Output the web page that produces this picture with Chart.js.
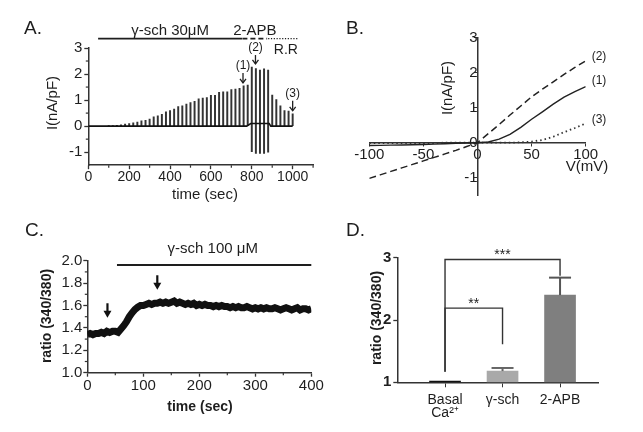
<!DOCTYPE html>
<html>
<head>
<meta charset="utf-8">
<script src="https://cdn.jsdelivr.net/npm/chart.js@4.4.0/dist/chart.umd.min.js"></script>
<style>
  body { margin: 0; background: #fff; }
  #wrap { position: relative; width: 643px; height: 432px; }
  #wrap canvas { position: absolute; left: 0; top: 0; }
</style>
</head>
<body>
<div id="wrap">
  <canvas id="chartA" width="643" height="432"></canvas>
  <canvas id="chartB" width="643" height="432"></canvas>
  <canvas id="chartC" width="643" height="432"></canvas>
  <canvas id="chartD" width="643" height="432"></canvas>
</div>
<script>
// ---- Panel A: ramp currents (nA/pF) over time ----
const rampTimes = [100,120,140,160,180,200,220,240,260,280,300,320,340,360,380,400,420,440,460,480,
  500,520,540,560,580,600,620,640,660,680,700,720,740,760,780,800,820,840,860,880,900,920,940,960,980,1000];
const rampPeak = [0.01,0.02,0.03,0.05,0.08,0.10,0.13,0.16,0.20,0.22,0.27,0.36,0.40,0.45,0.55,0.60,0.65,0.75,0.78,0.85,
  0.90,0.95,1.05,1.08,1.10,1.18,1.18,1.30,1.32,1.32,1.40,1.42,1.45,1.55,1.58,2.27,2.21,2.15,2.20,2.15,1.19,1.02,0.78,0.60,0.58,0.47];
const rampTrough = [0,0,0,0,0,0,0,0,0,0,0,0,0,0,0,0,0,0,0,0,
  0,0,0,0,0,0,0,0,0,0,0,0,0,0,0,-0.98,-1.05,-1.05,-1.05,-1.00,0,0,0,0,0,0];
const holdTime = [0, 775, 795, 885, 893, 1000];
const holdCurrent = [0, 0, 0.1, 0.1, 0, 0];
const aXTicks = [0, 200, 400, 600, 800, 1000];
const aXMinor = [100, 300, 500, 700, 900, 1100];
const aYTicks = [-1, 0, 1, 2, 3];
const aYMinor = [-0.5, 0.5, 1.5, 2.5];
const treatStart = [48, 754, 880];
const treatEnd = [752, 875, 1027];
const markSec = [757, 818, 1000];
const markLabel = ['(1)', '(2)', '(3)'];
const markTop = [2.04, 2.73, 0.97];
const markTip = [1.66, 2.39, 0.59];

// ---- Panel B: I-V curves ----
const ivVoltage = [-100,-90,-80,-70,-60,-50,-40,-30,-20,-10,0,10,20,30,40,50,60,70,80,90,100];
const ivCurrent1 = [-0.08,-0.075,-0.07,-0.065,-0.06,-0.05,-0.04,-0.03,-0.02,-0.01,0,0.02,0.10,0.24,0.44,0.67,0.88,1.10,1.30,1.46,1.60];
const ivCurrent2 = [-1.02,-0.92,-0.82,-0.72,-0.62,-0.52,-0.42,-0.32,-0.22,-0.11,0.0,0.26,0.52,0.79,1.05,1.31,1.53,1.74,1.95,2.15,2.34];
const ivCurrent3 = [-0.01,-0.01,-0.01,-0.01,-0.01,-0.01,-0.01,0,0,0,0,0,0,0,0.01,0.03,0.08,0.17,0.30,0.42,0.55];
const bXTicks = [-100, -50, 0, 50, 100];
const bYTicks = [-1, 0, 1, 2, 3];

// ---- Panel C: Fura-2 ratio trace ----
const traceTime = [0,5,10,15,20,25,30,35,40,45,50,55,60,65,70,75,80,85,90,95,100,105,110,115,120,125,130,135,140,145,
  150,155,160,165,170,175,180,185,190,195,200,205,210,215,220,225,230,235,240,245,250,255,260,265,270,275,280,285,290,295,
  300,305,310,315,320,325,330,335,340,345,350,355,360,365,370,375,380,385,390,395,400];
const traceRatio = [1.34,1.35,1.34,1.35,1.35,1.36,1.35,1.37,1.36,1.37,1.37,1.36,1.39,1.42,1.455,1.50,1.535,1.565,1.585,1.60,
  1.60,1.61,1.62,1.61,1.62,1.62,1.63,1.62,1.63,1.62,1.63,1.64,1.62,1.63,1.62,1.61,1.62,1.61,1.62,1.60,
  1.61,1.60,1.61,1.60,1.60,1.59,1.60,1.59,1.60,1.59,1.59,1.58,1.59,1.58,1.59,1.58,1.58,1.59,1.58,1.57,
  1.58,1.57,1.58,1.57,1.58,1.57,1.57,1.58,1.57,1.56,1.57,1.58,1.57,1.56,1.57,1.58,1.56,1.57,1.57,1.56,1.57];
const cXTicks = [0, 100, 200, 300, 400];
const cXMinor = [50, 150, 250, 350];
const cYTicks = [1.0, 1.2, 1.4, 1.6, 1.8, 2.0];
const cYMinor = [1.1, 1.3, 1.5, 1.7, 1.9];
const drugStart = 53, drugEnd = 400;
const arrowSec = [36, 125];
const arrowTop = [1.62, 1.87];
const arrowTip = [1.49, 1.74];

// ---- Panel D: mean ratio ----
const groups = [['Basal', 'Ca²⁺'], ['γ-sch'], ['2-APB']];
const ratioMean = [1.02, 1.18, 2.40];
const ratioSem = [0, 0.05, 0.28];
const dYTicks = [1, 2, 3];
const sigPairs = [[0, 1], [0, 2]];
const sigLeftFoot = [1.17, 1.17];
const sigTop = [2.19, 2.97];
const sigRightFoot = [1.61, 2.71];
const sigMarks = ['**', '***'];

const FONT = "'Liberation Sans', Arial, Helvetica, sans-serif";
const ink = '#1e1e1e';
const axisCol = '#333';
Chart.defaults.font.family = FONT;
Chart.defaults.color = ink;

function text(ctx, str, x, y, size, opt = {}) {
  ctx.save();
  ctx.font = (opt.bold ? 'bold ' : '') + size + 'px ' + FONT;
  ctx.fillStyle = opt.color || ink;
  ctx.textAlign = opt.align || 'center';
  ctx.textBaseline = 'middle';
  ctx.translate(x, y);
  if (opt.rotate) ctx.rotate(opt.rotate);
  ctx.fillText(str, 0, 0);
  ctx.restore();
}

function line(ctx, x1, y1, x2, y2, w, col, dash) {
  ctx.save();
  ctx.strokeStyle = col || ink;
  ctx.lineWidth = w;
  ctx.setLineDash(dash || []);
  ctx.beginPath();
  ctx.moveTo(x1, y1);
  ctx.lineTo(x2, y2);
  ctx.stroke();
  ctx.restore();
}

function minorTicks(chart, xVals, yVals) {
  const {ctx, chartArea, scales} = chart;
  (yVals || []).forEach(v => {
    const py = scales.y.getPixelForValue(v);
    line(ctx, chartArea.left, py, chartArea.left - 2.5, py, 1.2, axisCol);
  });
  (xVals || []).forEach(v => {
    const px = scales.x.getPixelForValue(v);
    line(ctx, px, chartArea.bottom, px, chartArea.bottom + 2.5, 1.2, axisCol);
  });
}

function axis(extra) {
  return Object.assign({
    offset: false,
    grid: {offset: false, drawOnChartArea: false, tickLength: 4, color: axisCol, tickWidth: 1.3},
    border: {color: axisCol, width: 1.5},
    ticks: {font: {size: 14}, color: ink, autoSkip: false, maxRotation: 0, padding: 2}
  }, extra);
}

function baseOptions(padding, scales) {
  return {
    responsive: false,
    animation: false,
    events: [],
    layout: {padding},
    plugins: {legend: {display: false}, tooltip: {enabled: false}},
    scales
  };
}

// ================= Panel A =================
const panelA = {
  id: 'panelA',
  afterDraw(chart) {
    const {ctx, scales: {x, y}} = chart;
    minorTicks(chart, aXMinor, aYMinor);
    text(ctx, 'A.', 24, 29, 19, {align: 'left'});
    text(ctx, 'I(nA/pF)', 53, 103, 15, {rotate: -Math.PI / 2});
    text(ctx, 'time (sec)', 205, 195, 15);

    const barY = y.getPixelForValue(3.36);
    line(ctx, x.getPixelForValue(treatStart[0]), barY, x.getPixelForValue(treatEnd[0]), barY, 1.6, ink);
    line(ctx, x.getPixelForValue(treatStart[1]), barY, x.getPixelForValue(treatEnd[1]), barY, 1.6, ink, [5, 3]);
    line(ctx, x.getPixelForValue(treatStart[2]), barY, x.getPixelForValue(treatEnd[2]), barY, 1.4, ink, [1.2, 1.6]);
    text(ctx, 'γ-sch 30μM', x.getPixelForValue(400), 30.5, 15);
    text(ctx, '2-APB', x.getPixelForValue(815), 30.5, 15);
    text(ctx, 'R.R', x.getPixelForValue(967), 50, 14);

    markSec.forEach((s, i) => {
      const px = x.getPixelForValue(s);
      const top = y.getPixelForValue(markTop[i]);
      const tip = y.getPixelForValue(markTip[i]);
      line(ctx, px, top, px, tip, 1.3, ink);
      ctx.save();
      ctx.strokeStyle = ink;
      ctx.lineWidth = 1.3;
      ctx.beginPath();
      ctx.moveTo(px - 3, tip - 4);
      ctx.lineTo(px, tip);
      ctx.lineTo(px + 3, tip - 4);
      ctx.stroke();
      ctx.restore();
      text(ctx, markLabel[i], px, top - 7, 12);
    });
  }
};

new Chart(document.getElementById('chartA'), {
  type: 'bar',
  data: {
    datasets: [
      {
        type: 'line',
        data: holdTime.map((t, i) => ({x: t, y: holdCurrent[i]})),
        borderColor: '#111',
        borderWidth: 1.6,
        pointRadius: 0,
        order: 0
      },
      {
        type: 'bar',
        data: rampTimes.map((t, i) => ({x: t, y: [rampTrough[i], rampPeak[i]]})),
        backgroundColor: '#333',
        barThickness: 1.3,
        order: 1
      }
    ]
  },
  options: baseOptions({left: 48.3, top: 48, right: 329.9, bottom: 236.8}, {
    x: axis({
      type: 'linear', min: 0, max: 1100,
      afterFit: s => { s.height = 30; },
      afterBuildTicks: s => { s.ticks = aXTicks.map(v => ({value: v})); },
      ticks: {font: {size: 14}, color: ink, autoSkip: false, maxRotation: 0, padding: 0, callback: v => String(v)}
    }),
    y: axis({
      type: 'linear', min: -1.5, max: 3,
      afterFit: s => { s.width = 40; },
      afterBuildTicks: s => { s.ticks = aYTicks.map(v => ({value: v})); },
      ticks: {font: {size: 15}, color: ink, autoSkip: false, padding: 2}
    })
  }),
  plugins: [panelA]
});

// ================= Panel B =================
const panelB = {
  id: 'panelB',
  afterDraw(chart) {
    const {ctx} = chart;
    text(ctx, 'B.', 346, 29, 19, {align: 'left'});
    text(ctx, 'I(nA/pF)', 447.5, 88, 15, {rotate: -Math.PI / 2});
    text(ctx, 'V(mV)', 587, 166.5, 15);
    text(ctx, '(2)', 599, 57, 12);
    text(ctx, '(1)', 599, 80.5, 12);
    text(ctx, '(3)', 599, 119.5, 12);
  }
};

const ivPoints = arr => ivVoltage.map((v, i) => ({x: v, y: arr[i]}));

new Chart(document.getElementById('chartB'), {
  type: 'line',
  data: {
    datasets: [
      {data: ivPoints(ivCurrent1), borderColor: '#222', borderWidth: 1.4, pointRadius: 0},
      {data: ivPoints(ivCurrent2), borderColor: '#222', borderWidth: 1.5, borderDash: [7, 4], pointRadius: 0},
      {data: ivPoints(ivCurrent3), borderColor: '#333', borderWidth: 1.8, borderDash: [1.5, 3], pointRadius: 0}
    ]
  },
  options: baseOptions({left: 369.3, top: 37.7, right: 57.3, bottom: 236.8}, {
    x: axis({
      type: 'linear', min: -100, max: 100, position: {y: 0},
      afterBuildTicks: s => { s.ticks = bXTicks.map(v => ({value: v})); },
      grid: {offset: false, drawOnChartArea: false, tickLength: 3, color: axisCol},
      ticks: {font: {size: 15}, color: ink, autoSkip: false, maxRotation: 0, padding: 0}
    }),
    y: axis({
      type: 'linear', min: -1.5, max: 3, position: {x: 0},
      afterBuildTicks: s => { s.ticks = bYTicks.map(v => ({value: v})); },
      grid: {offset: false, drawOnChartArea: false, tickLength: 3, color: axisCol},
      ticks: {font: {size: 15}, color: ink, autoSkip: false, padding: 1}
    })
  }),
  plugins: [panelB]
});

// ================= Panel C =================
const panelC = {
  id: 'panelC',
  afterDraw(chart) {
    const {ctx, scales: {x, y}} = chart;
    minorTicks(chart, cXMinor, cYMinor);
    text(ctx, 'C.', 25, 231, 19, {align: 'left'});
    text(ctx, 'ratio (340/380)', 46.7, 316, 14, {bold: true, rotate: -Math.PI / 2});
    text(ctx, 'time (sec)', 200, 406.7, 14, {bold: true});

    const barY = y.getPixelForValue(1.962);
    line(ctx, x.getPixelForValue(drugStart), barY, x.getPixelForValue(drugEnd), barY, 2, ink);
    text(ctx, 'γ-sch 100 μM', x.getPixelForValue(224), 249, 15);

    arrowSec.forEach((s, i) => {
      const px = x.getPixelForValue(s);
      const top = y.getPixelForValue(arrowTop[i]);
      const tip = y.getPixelForValue(arrowTip[i]);
      line(ctx, px, top, px, tip - 5, 2.2, '#111');
      ctx.save();
      ctx.fillStyle = '#111';
      ctx.beginPath();
      ctx.moveTo(px - 4, tip - 7);
      ctx.lineTo(px + 4, tip - 7);
      ctx.lineTo(px, tip);
      ctx.closePath();
      ctx.fill();
      ctx.restore();
    });
  }
};

new Chart(document.getElementById('chartC'), {
  type: 'line',
  data: {
    datasets: [{
      data: traceTime.map((t, i) => ({x: t, y: traceRatio[i]})),
      borderColor: '#111',
      borderWidth: 7,
      borderJoinStyle: 'miter',
      pointRadius: 0
    }]
  },
  options: baseOptions({left: 47.3, top: 260.7, right: 331.7, bottom: 29.3}, {
    x: axis({
      type: 'linear', min: 0, max: 400,
      afterFit: s => { s.height = 30; },
      afterBuildTicks: s => { s.ticks = cXTicks.map(v => ({value: v})); },
      ticks: {font: {size: 15}, color: ink, autoSkip: false, maxRotation: 0, padding: 0}
    }),
    y: axis({
      type: 'linear', min: 1.0, max: 2.0,
      afterFit: s => { s.width = 40; },
      afterBuildTicks: s => { s.ticks = cYTicks.map(v => ({value: v})); },
      ticks: {font: {size: 15}, color: ink, autoSkip: false, padding: 1, callback: v => v.toFixed(1)}
    })
  }),
  plugins: [panelC]
});

// ================= Panel D =================
const barColors = ['#111111', '#a9a9a9', '#7f7f7f'];
const errColors = ['#111111', '#666666', '#555555'];

const panelD = {
  id: 'panelD',
  afterDraw(chart) {
    const {ctx, scales: {x, y}} = chart;
    text(ctx, 'D.', 346, 231, 19, {align: 'left'});
    text(ctx, 'ratio (340/380)', 377, 318, 14, {bold: true, rotate: -Math.PI / 2});

    ratioMean.forEach((m, i) => {
      if (!ratioSem[i]) return;
      const px = x.getPixelForValue(i);
      const top = y.getPixelForValue(m + ratioSem[i]);
      line(ctx, px, y.getPixelForValue(m), px, top, 2, errColors[i]);
      line(ctx, px - 11, top, px + 11, top, 2, errColors[i]);
    });

    sigPairs.forEach(([a, b], i) => {
      const xa = x.getPixelForValue(a), xb = x.getPixelForValue(b);
      const yt = y.getPixelForValue(sigTop[i]);
      ctx.save();
      ctx.strokeStyle = '#333';
      ctx.lineWidth = 1.4;
      ctx.beginPath();
      ctx.moveTo(xa, y.getPixelForValue(sigLeftFoot[i]));
      ctx.lineTo(xa, yt);
      ctx.lineTo(xb, yt);
      ctx.lineTo(xb, y.getPixelForValue(sigRightFoot[i]));
      ctx.stroke();
      ctx.restore();
      text(ctx, sigMarks[i], (xa + xb) / 2, yt - 4, 14);
    });
  }
};

new Chart(document.getElementById('chartD'), {
  type: 'bar',
  data: {
    datasets: [{
      data: ratioMean.map((m, i) => ({x: i, y: [1, m]})),
      backgroundColor: barColors,
      barThickness: 31
    }]
  },
  options: baseOptions({left: 357.3, top: 257.7, right: 45, bottom: 9.7}, {
    x: axis({
      type: 'linear', min: -0.83, max: 2.66,
      afterFit: s => { s.height = 40; },
      afterBuildTicks: s => { s.ticks = groups.map((g, i) => ({value: i})); },
      grid: {offset: false, drawOnChartArea: false, tickLength: 5, color: axisCol},
      ticks: {font: {size: 14, lineHeight: 0.95}, color: ink, autoSkip: false, maxRotation: 0, padding: 6,
        callback: v => groups[v]}
    }),
    y: axis({
      type: 'linear', min: 1, max: 3,
      afterFit: s => { s.width = 40; },
      afterBuildTicks: s => { s.ticks = dYTicks.map(v => ({value: v})); },
      ticks: {font: {size: 15, weight: 'bold'}, color: ink, autoSkip: false, padding: 2}
    })
  }),
  plugins: [panelD]
});
</script>
</body>
</html>
